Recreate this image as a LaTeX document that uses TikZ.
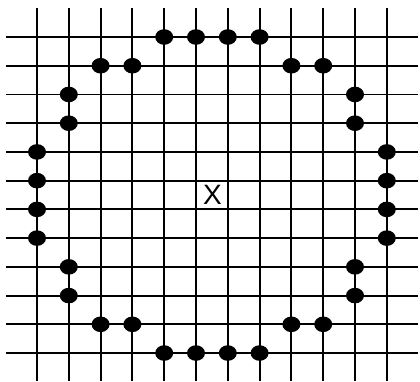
\documentclass[tikz,border=0pt]{standalone}
\usepackage{fontspec}
\setmainfont{Liberation Sans}
\begin{document}
\begin{tikzpicture}[x=1pt,y=-1pt,
  gridline/.style={line width=1.9pt,black},
  mark label/.style={font=\fontsize{28}{28}\selectfont,inner sep=0pt}]
\useasboundingbox (0,0) rectangle (420,381);
\foreach \i in {0,...,11} {
  \draw[gridline] ({37+31.8*\i},8) -- ({37+31.8*\i},381);
  \draw[gridline] (6,{37+28.73*\i}) -- (418,{37+28.73*\i});
}
\foreach \c/\r in {4/0,5/0,6/0,7/0,
                   2/1,3/1,8/1,9/1,
                   1/2,10/2,1/3,10/3,
                   0/4,11/4,0/5,11/5,0/6,11/6,0/7,11/7,
                   1/8,10/8,1/9,10/9,
                   2/10,3/10,8/10,9/10,
                   4/11,5/11,6/11,7/11} {
  \fill ({37+31.8*\c},{37+28.73*\r}) ellipse (9pt and 7.8pt);
}
\node[mark label] (x) at (212.5,195) {X};
\end{tikzpicture}
\end{document}
